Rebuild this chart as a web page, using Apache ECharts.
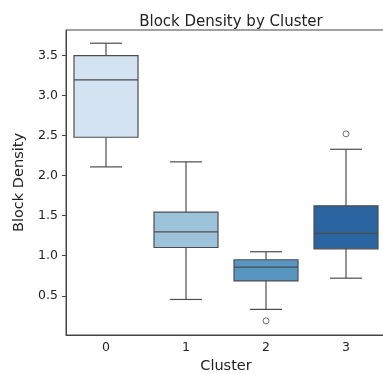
<!DOCTYPE html>
<html>
<head>
<meta charset="utf-8">
<script src="https://cdn.jsdelivr.net/npm/echarts@6/dist/echarts.min.js"></script>
<style>
  html, body { margin: 0; padding: 0; background: #fff; }
  #chart { width: 383px; height: 374px; }
</style>
</head>
<body>
<div id="chart"></div>
<script>
// data
const clusters = ['0', '1', '2', '3'];
const whiskerLow = [2.11, 0.454, 0.33, 0.72];
const q1 = [2.48, 1.103, 0.685, 1.087];
const median = [3.197, 1.299, 0.859, 1.28];
const q3 = [3.5, 1.545, 0.95, 1.624];
const whiskerHigh = [3.655, 2.173, 1.05, 2.33];
const outlierCluster = [2, 3];
const outlierValue = [0.187, 2.523];
const yTicks = [0.5, 1.0, 1.5, 2.0, 2.5, 3.0, 3.5];

// Blues palette (seaborn desaturated)
const boxColors = ['#d4e3f1', '#9cc3d9', '#5896c2', '#2a64a1'];
const lineColor = '#4d4d4d';
const font = 'DejaVu Sans';

const boxData = clusters.map((c, i) => [i, whiskerLow[i], q1[i], median[i], q3[i], whiskerHigh[i]]);
const outlierData = outlierCluster.map((c, i) => [c, outlierValue[i]]);

function renderBox(params, api) {
    const x = api.value(0);
    const lo = api.coord([x, api.value(1)]);
    const p1 = api.coord([x, api.value(2)]);
    const md = api.coord([x, api.value(3)]);
    const p3 = api.coord([x, api.value(4)]);
    const hi = api.coord([x, api.value(5)]);
    const band = api.size([1, 0])[0];
    const w = band * 0.8;
    const cap = w / 4;
    const cx = lo[0];
    const ls = { stroke: lineColor, lineWidth: 1.2 };
    return {
        type: 'group',
        children: [
            { type: 'line', shape: { x1: cx, y1: p1[1], x2: cx, y2: lo[1] }, style: ls },
            { type: 'line', shape: { x1: cx, y1: p3[1], x2: cx, y2: hi[1] }, style: ls },
            { type: 'line', shape: { x1: cx - cap, y1: lo[1], x2: cx + cap, y2: lo[1] }, style: ls },
            { type: 'line', shape: { x1: cx - cap, y1: hi[1], x2: cx + cap, y2: hi[1] }, style: ls },
            {
                type: 'rect',
                shape: { x: cx - w / 2, y: p3[1], width: w, height: p1[1] - p3[1] },
                style: { fill: boxColors[params.dataIndex], stroke: lineColor, lineWidth: 1.2 }
            },
            { type: 'line', shape: { x1: cx - w / 2, y1: md[1], x2: cx + w / 2, y2: md[1] }, style: ls }
        ]
    };
}

const chart = echarts.init(document.getElementById('chart'), null, { renderer: 'canvas' });
chart.setOption({
    animation: false,
    backgroundColor: '#fff',
    title: {
        text: 'Block Density by Cluster',
        left: 226,
        top: 10,
        textAlign: 'center',
        textStyle: { fontFamily: font, fontSize: 15, fontWeight: 'normal', color: '#222' }
    },
    grid: {
        left: 66,
        top: 30,
        width: 320,
        height: 305,
        containLabel: false,
        outerBoundsMode: 'none',
        show: true,
        borderColor: '#444',
        borderWidth: 1
    },
    xAxis: {
        type: 'category',
        data: clusters,
        name: 'Cluster',
        nameLocation: 'middle',
        nameGap: 22,
        nameTextStyle: { fontFamily: font, fontSize: 14.5, color: '#222' },
        axisLine: { lineStyle: { color: '#444', width: 1 } },
        axisTick: { alignWithLabel: true, length: 4, lineStyle: { color: '#444' } },
        axisLabel: { fontFamily: font, fontSize: 12.5, color: '#222', margin: 6 },
        splitLine: { show: false }
    },
    yAxis: {
        type: 'value',
        min: 0.01,
        max: 3.82,
        name: 'Block Density',
        nameLocation: 'middle',
        nameGap: 32,
        nameTextStyle: { fontFamily: font, fontSize: 14.5, color: '#222' },
        axisLine: { show: true, lineStyle: { color: '#444', width: 1 } },
        axisTick: { show: true, length: 4, customValues: yTicks, lineStyle: { color: '#444' } },
        axisLabel: {
            fontFamily: font, fontSize: 12.5, color: '#222', margin: 8,
            customValues: yTicks,
            formatter: v => v.toFixed(1)
        },
        splitLine: { show: false }
    },
    series: [
        {
            type: 'custom',
            renderItem: renderBox,
            data: boxData,
            encode: { x: 0, y: [1, 2, 3, 4, 5] },
            z: 2
        },
        {
            type: 'scatter',
            data: outlierData,
            symbol: 'circle',
            symbolSize: 6,
            itemStyle: { color: '#fff', borderColor: lineColor, borderWidth: 1 },
            z: 3
        }
    ]
});
</script>
</body>
</html>
